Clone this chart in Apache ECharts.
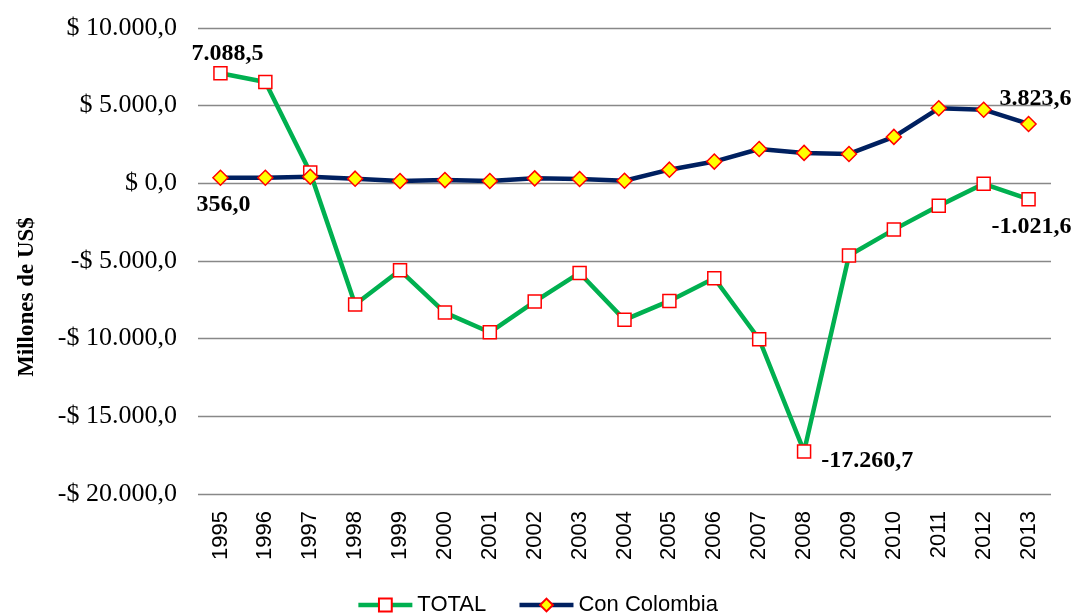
<!DOCTYPE html>
<html>
<head>
<meta charset="utf-8">
<script src="https://cdn.jsdelivr.net/npm/echarts@6/dist/echarts.min.js"></script>
<style>
html,body{margin:0;padding:0;background:#fff;}
#chart{width:1074px;height:616px;}
</style>
</head>
<body>
<div id="chart"></div>
<script>
var years = ['1995','1996','1997','1998','1999','2000','2001','2002','2003','2004','2005','2006','2007','2008','2009','2010','2011','2012','2013'];
var totalValues = [7088.5, 6525, 700, -7805, -5600, -8320, -9590, -7610, -5770, -8790, -7570, -6110, -10040, -17260.7, -4650, -2980, -1450, -30, -1021.6];
var colombiaValues = [356.0, 360, 420, 300, 150, 210, 150, 320, 280, 170, 880, 1400, 2210, 1960, 1890, 2990, 4830, 4740, 3823.6];
var yTicks = [-20000, -15000, -10000, -5000, 0, 5000, 10000];
var totalLabelIdx = [0, 13, 18];
var colombiaLabelIdx = [0, 18];

function fmt(v, dec) {
  var neg = v < 0;
  var a = Math.abs(v).toFixed(dec);
  var parts = a.split('.');
  var intPart = parts[0].replace(/\B(?=(\d{3})+(?!\d))/g, '.');
  return (neg ? '-' : '') + intPart + (dec ? ',' + parts[1] : '');
}
function fmtAxis(v) {
  var s = fmt(Math.abs(v), 1);
  return (v < 0 ? '-$ ' : '$ ') + s;
}

var labelFont = {fontFamily: '"Liberation Serif", "Times New Roman", serif', fontSize: 24, fontWeight: 'bold', color: '#000'};

var totalLabelCfg = {
  0: {position: 'top', offset: [7, 5]},
  13: {position: 'right', offset: [5, 9]},
  18: {position: 'bottom', offset: [3, 3]}
};
var colombiaLabelCfg = {
  0: {position: 'bottom', offset: [3, 2]},
  18: {position: 'top', offset: [7, 0]}
};

function buildData(values, idxs, cfg) {
  return values.map(function (v, i) {
    if (idxs.indexOf(i) >= 0) {
      return {value: v, label: Object.assign({show: true, formatter: fmt(v, 1)}, labelFont, cfg[i])};
    }
    return v;
  });
}

var chart = echarts.init(document.getElementById('chart'), null, {renderer: 'canvas'});
chart.setOption({
  animation: false,
  backgroundColor: '#fff',
  grid: {left: 198, right: 23, top: 28, bottom: 122, containLabel: false},
  legend: {
    top: 594,
    padding: 0,
    left: 'center',
    itemWidth: 54,
    itemHeight: 16,
    itemGap: 31,
    lineStyle: {width: 4.5},
    textStyle: {fontFamily: '"Liberation Sans", Arial, sans-serif', fontSize: 22, color: '#000'},
    data: ['TOTAL', 'Con Colombia']
  },
  graphic: [{
    type: 'text',
    x: 27,
    y: 297,
    rotation: Math.PI / 2,
    style: {
      text: 'Millones de US$',
      fontFamily: '"Liberation Serif", "Times New Roman", serif',
      fontSize: 23,
      fontWeight: 'bold',
      fill: '#000',
      textAlign: 'center',
      textVerticalAlign: 'middle'
    }
  }],
  xAxis: {
    type: 'category',
    data: years,
    boundaryGap: true,
    axisLine: {show: false},
    axisTick: {show: false},
    axisLabel: {
      rotate: 90,
      margin: 17,
      fontFamily: '"Liberation Sans", Arial, sans-serif',
      fontSize: 22,
      color: '#000'
    }
  },
  yAxis: {
    type: 'value',
    min: yTicks[0],
    max: yTicks[yTicks.length - 1],
    interval: 5000,
    axisLine: {show: false},
    axisTick: {show: false},
    splitLine: {lineStyle: {color: '#888', width: 1.4}},
    axisLabel: {
      margin: 21,
      formatter: fmtAxis,
      fontFamily: '"Liberation Serif", "Times New Roman", serif',
      fontSize: 26,
      color: '#000'
    }
  },
  series: [
    {
      name: 'TOTAL',
      type: 'line',
      data: buildData(totalValues, totalLabelIdx, totalLabelCfg),
      symbol: 'rect',
      symbolSize: 13,
      lineStyle: {color: '#00B050', width: 4.5},
      itemStyle: {color: '#ffffff', borderColor: '#FF0000', borderWidth: 1.5},
      label: {show: false},
      z: 2
    },
    {
      name: 'Con Colombia',
      type: 'line',
      data: buildData(colombiaValues, colombiaLabelIdx, colombiaLabelCfg),
      symbol: 'diamond',
      symbolSize: 15,
      lineStyle: {color: '#002060', width: 4.5},
      itemStyle: {color: '#FFFF00', borderColor: '#FF0000', borderWidth: 1.5},
      label: {show: false},
      z: 3
    }
  ]
});
</script>
</body>
</html>
